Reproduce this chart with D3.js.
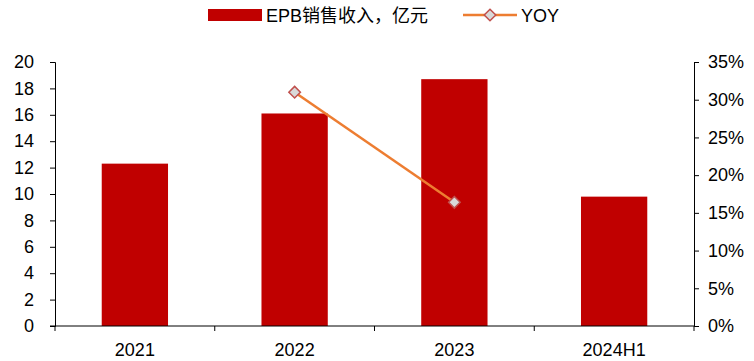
<!DOCTYPE html>
<html>
<head>
<meta charset="utf-8">
<script src="https://cdn.jsdelivr.net/npm/d3@7/dist/d3.min.js"></script>
<style>
  html, body { margin: 0; padding: 0; background: #fff; }
  svg { display: block; }
  text { font-family: "Liberation Sans", Arial, "Noto Sans CJK SC", sans-serif; fill: #000; }
</style>
</head>
<body>
<svg id="chart" width="754" height="361"></svg>
<script>
// EPB sales revenue (100 million yuan) and year-over-year growth
const categories = ["2021", "2022", "2023", "2024H1"];
const revenue = [12.3, 16.1, 18.7, 9.8];
const yoy = [null, 0.31, 0.164, null];
const leftTicks = [0, 2, 4, 6, 8, 10, 12, 14, 16, 18, 20];
const rightTicks = [0, 0.05, 0.10, 0.15, 0.20, 0.25, 0.30, 0.35];
const barName = "EPB销售收入，亿元";
const lineName = "YOY";

const svg = d3.select("#chart");
const m = { left: 55, right: 694, top: 62, bottom: 326 };
const fs = 18;

const x = d3.scaleBand().domain(categories).range([m.left, m.right]).paddingInner(0.585).paddingOuter(0.2925);
const xTicks = d3.scaleBand().domain(categories).range([m.left, m.right]);
const yL = d3.scaleLinear().domain([0, 20]).range([m.bottom, m.top]);
const yR = d3.scaleLinear().domain([0, 0.35]).range([m.bottom, m.top]);

const barColor = "#C00000";
const lineColor = "#ED7D31";

// bars
svg.append("g").selectAll("rect").data(categories).join("rect")
  .attr("x", d => x(d))
  .attr("width", x.bandwidth())
  .attr("y", (d, i) => yL(revenue[i]))
  .attr("height", (d, i) => yL(0) - yL(revenue[i]))
  .attr("fill", barColor);

// left axis
const gL = svg.append("g").attr("transform", `translate(${m.left},0)`)
  .call(d3.axisLeft(yL).tickValues(leftTicks).tickSize(5).tickPadding(16).tickFormat(d3.format("d")));
// right axis
const gR = svg.append("g").attr("transform", `translate(${m.right},0)`)
  .call(d3.axisRight(yR).tickValues(rightTicks).tickSize(5).tickPadding(9).tickFormat(d3.format(".0%")));
// x axis with ticks at category boundaries
const bounds = categories.map(c => xTicks(c)).concat([m.right]);
const gX = svg.append("g").attr("transform", `translate(0,${m.bottom})`);
gX.append("line").attr("x1", m.left - 5).attr("x2", m.right).attr("stroke", "#000");
gX.selectAll("line.t").data(bounds).join("line").attr("class", "t")
  .attr("x1", d => d).attr("x2", d => d).attr("y1", 0).attr("y2", 5).attr("stroke", "#000");
gX.selectAll("text").data(categories).join("text")
  .attr("x", d => xTicks(d) + xTicks.bandwidth() / 2)
  .attr("y", 29.5)
  .attr("text-anchor", "middle")
  .attr("font-size", fs)
  .text(d => d);

[gL, gR].forEach(g => {
  g.select(".domain").attr("stroke", "#000");
  g.selectAll(".tick line").attr("stroke", "#000");
  g.selectAll(".tick text").attr("font-size", fs).attr("fill", "#000")
    .attr("font-family", "'Liberation Sans', Arial, sans-serif");
});

// YOY line
const pts = categories.map((c, i) => ({ c, v: yoy[i] })).filter(p => p.v !== null);
const cx = c => x(c) + x.bandwidth() / 2;
svg.append("path")
  .datum(pts)
  .attr("fill", "none")
  .attr("stroke", lineColor)
  .attr("stroke-width", 2.5)
  .attr("d", d3.line().x(p => cx(p.c)).y(p => yR(p.v)));

const diamond = d3.symbol().type(d3.symbolDiamond2).size(85);
svg.append("g").selectAll("path").data(pts).join("path")
  .attr("transform", p => `translate(${cx(p.c)},${yR(p.v)})`)
  .attr("d", diamond)
  .attr("fill", "#D9D9D9")
  .attr("stroke", "#C0504D")
  .attr("stroke-width", 1.5);

// legend
const lg = svg.append("g");
lg.append("rect").attr("x", 208).attr("y", 9).attr("width", 54).attr("height", 12).attr("fill", barColor);
lg.append("text").attr("x", 266).attr("y", 21.5).attr("font-size", fs).text(barName);
lg.append("line").attr("x1", 463).attr("x2", 517).attr("y1", 15).attr("y2", 15)
  .attr("stroke", lineColor).attr("stroke-width", 2.5);
lg.append("path").attr("transform", "translate(490,15)").attr("d", diamond)
  .attr("fill", "#D9D9D9").attr("stroke", "#C0504D").attr("stroke-width", 1.5);
lg.append("text").attr("x", 521).attr("y", 21.5).attr("font-size", fs).text(lineName);
</script>
</body>
</html>
